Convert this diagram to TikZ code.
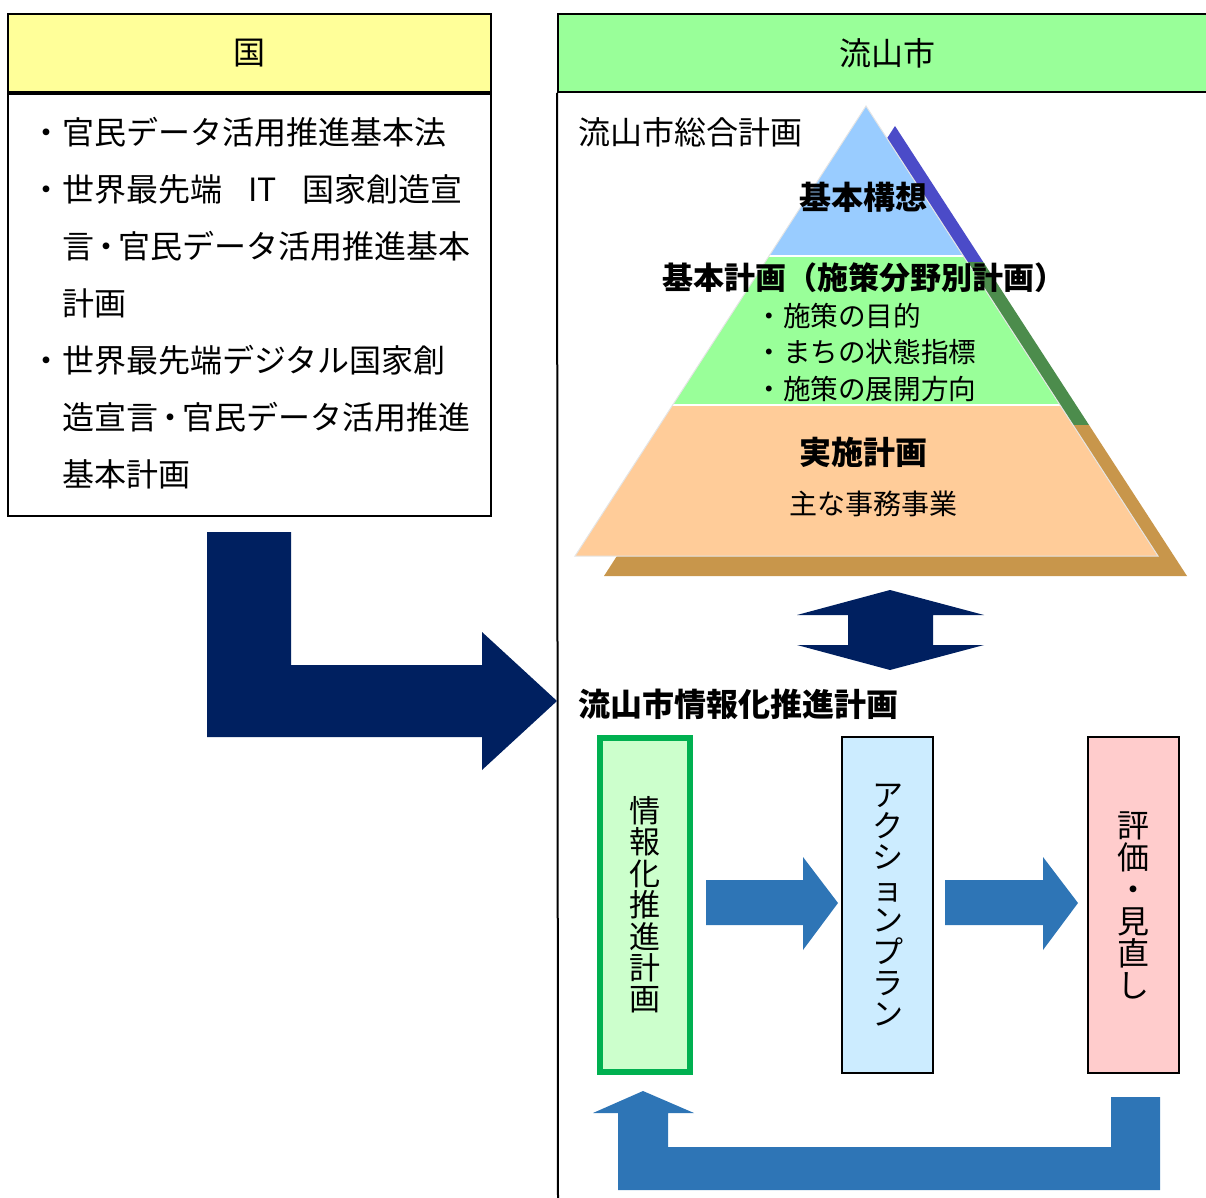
\documentclass[tikz,border=0pt]{standalone}
\usepackage{fontspec}
\setmainfont{Noto Sans CJK JP}
\usepackage{xcolor}
\usepackage{tikz}
\usetikzlibrary{positioning}
\definecolor{kunifill}{HTML}{FFFF99}
\definecolor{cityfill}{HTML}{99FF99}
\definecolor{navy}{HTML}{002060}
\definecolor{flowblue}{HTML}{2E75B6}
\definecolor{pyrblue}{HTML}{99CCFF}
\definecolor{pyrgreen}{HTML}{99FF99}
\definecolor{pyrorange}{HTML}{FFCC99}
\definecolor{shdblue}{HTML}{4B4BC8}
\definecolor{shdgreen}{HTML}{4C8C4C}
\definecolor{shdtan}{HTML}{C8964B}
\definecolor{planfill}{HTML}{CCFFCC}
\definecolor{planline}{HTML}{00B050}
\definecolor{actfill}{HTML}{CCECFF}
\definecolor{evalfill}{HTML}{FFCCCC}
\newcommand{\nakaguro}{\hspace{-2pt}・\hspace{-2pt}}

\begin{document}
\begin{tikzpicture}[x=0.5pt,y=-0.5pt,
  head box/.style={draw,line width=1pt,inner sep=0pt,
  font=\fontsize{16pt}{19pt}\selectfont,minimum height=39pt},
  body text/.style={anchor=west,inner sep=0pt,font=\fontsize{16pt}{19pt}\selectfont},
  pyr text/.style={inner sep=0pt,font=\fontsize{16pt}{19pt}\selectfont\bfseries},
  item text/.style={anchor=west,inner sep=0pt,font=\fontsize{13.8pt}{16pt}\selectfont},
  step box/.style={draw,line width=1pt,minimum width=45.5pt,minimum height=168pt,
  align=center,inner sep=0pt,font=\fontsize{15.5pt}{15.7pt}\selectfont}]

  \useasboundingbox (0,0) rectangle (1206,1198);
  \clip (0,0) rectangle (1206,1198);

  \node[head box,fill=kunifill,minimum width=241.5pt] (Kuni) at (249.5,53.5) {国};
  \node[draw,line width=1pt,minimum width=241.5pt,minimum height=210.5pt]
    (KuniBody) [below=0pt of Kuni] {};
  \node[body text] (Kone) at (30,132) {・官民データ活用推進基本法};
  \node[body text] (Ktwo) at (30,189) {・世界最先端\hspace{13pt}IT\hspace{13pt}国家創造宣};
  \node[body text] (Kthree) at (62,246) {言\nakaguro 官民データ活用推進基本};
  \node[body text] (Kfour) at (62,303) {計画};
  \node[body text] (Kfive) at (30,360) {・世界最先端デジタル国家創};
  \node[body text] (Ksix) at (62,417) {造宣言\nakaguro 官民データ活用推進};
  \node[body text] (Kseven) at (62,474) {基本計画};

  \node[head box,fill=cityfill,minimum width=329pt] (City) at (887,53) {流山市};
  \coordinate (cityEnd) at (558,1200);
  \draw[line width=1pt] (City.south west) -- (cityEnd);

  \begin{scope}[shift={(29,20)}]
    \clip (866,106) -- (575,556) -- (1158,556) -- cycle;
    \fill[shdblue] (500,80) rectangle (1250,242);
    \fill[shdgreen] (500,242) rectangle (1250,405);
    \fill[shdtan] (500,405) rectangle (1250,560);
  \end{scope}
  \begin{scope}
    \clip (866,106) -- (575,556) -- (1158,556) -- cycle;
    \fill[pyrblue] (500,80) rectangle (1250,256);
    \fill[pyrgreen] (500,256) rectangle (1250,405);
    \fill[pyrorange] (500,405) rectangle (1250,560);
    \draw[white,line width=1pt] (500,256) -- (1250,256) (500,405) -- (1250,405);
  \end{scope}
  \draw[white!80!gray,line width=0.5pt] (866,106) -- (575,556) -- (1158,556) -- cycle;

  \node[body text] (Sogo) at (578,132) {流山市総合計画};
  \node[pyr text] (Koso) at (863,197) {基本構想};
  \node[pyr text,font=\fontsize{15.5pt}{19pt}\selectfont\bfseries] (Keikaku) at (864,278)
    {基本計画（施策分野別計画）};
  \node[item text] (Mone) at (755,316) {・施策の目的};
  \node[item text] (Mtwo) at (755,352) {・まちの状態指標};
  \node[item text] (Mthree) at (755,389) {・施策の展開方向};
  \node[pyr text] (Jisshi) at (863,452) {実施計画};
  \node[item text,anchor=center,font=\fontsize{14pt}{16pt}\selectfont] (Jimu) at (873,504)
    {主な事務事業};

  \fill[navy] (890,590) -- (984,615) -- (933,615) -- (933,645) -- (984,645)
    -- (890,670) -- (797,645) -- (848,645) -- (848,615) -- (797,615) -- cycle;

  \node[body text,font=\fontsize{16pt}{19pt}\selectfont\bfseries] (Johoka) at (578,704)
    {流山市情報化推進計画};

  \node[step box,fill=planfill,draw=planline,line width=3pt,minimum width=45pt,
    minimum height=167pt] (Plan) at (645,905) {情\\報\\化\\推\\進\\計\\画};
  \node[step box,fill=actfill] (Action) at (887.5,905) {ア\\ク\\シ\\ョ\\ン\\プ\\ラ\\ン};
  \node[step box,fill=evalfill,font=\fontsize{16pt}{16pt}\selectfont] (Eval) at (1133,905)
    {評\\価\\・\\見\\直\\し};

  \foreach \xa/\xb in {706/803,945/1043}
    \fill[flowblue] (\xa,880) -- (\xb,880) -- (\xb,857) -- ({\xb+35},903)
      -- (\xb,950) -- (\xb,925) -- (\xa,925) -- cycle;

  \fill[flowblue] (1111,1097) -- (1160,1097) -- (1160,1190) -- (618,1190)
    -- (618,1113) -- (593,1113) -- (643,1091) -- (694,1113) -- (668,1113)
    -- (668,1147) -- (1111,1147) -- cycle;

  \fill[navy] (207,532) -- (291,532) -- (291,665) -- (482,665) -- (482,632)
    -- (557,701) -- (482,770) -- (482,737) -- (207,737) -- cycle;
\end{tikzpicture}
\end{document}
